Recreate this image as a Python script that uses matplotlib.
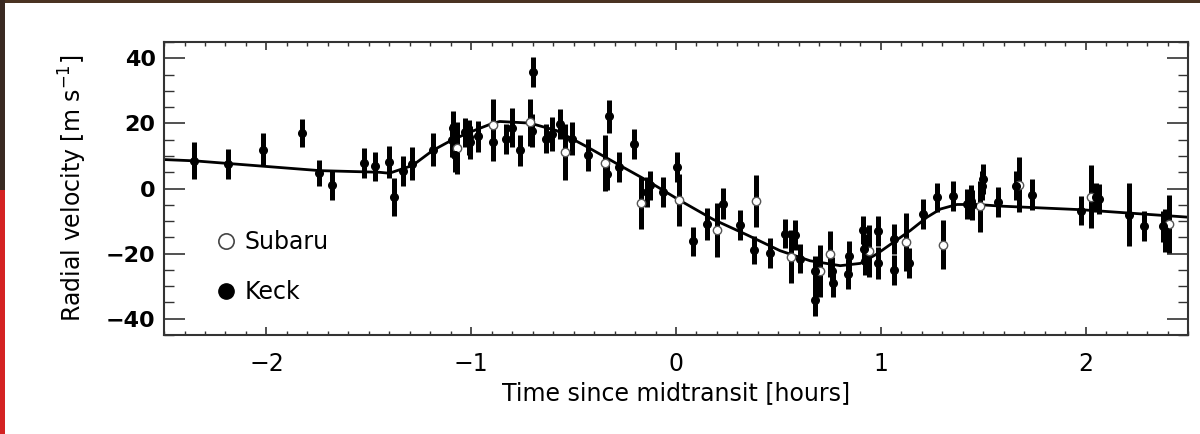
import matplotlib
matplotlib.use("Agg")
import matplotlib.pyplot as plt
from matplotlib.lines import Line2D
from matplotlib.patches import Rectangle
from matplotlib.ticker import MultipleLocator

# Keck points (filled): time [h], RV [m/s], error [m/s]
keck_t = [-2.352, -2.19, -2.015, -1.827, -1.741, -1.68, -1.524, -1.469, -1.402, -1.379,
          -1.333, -1.289, -1.187, -1.089, -1.092, -1.080, -1.032, -1.012, -1.005, -0.967,
          -0.894, -0.828, -0.803, -0.763, -0.698, -0.705, -0.633, -0.608, -0.567, -0.51,
          -0.429, -0.339, -0.326, -0.277, -0.205, -0.143, -0.125, -0.065, 0.003, 0.085,
          0.153, 0.231, 0.310, 0.381, 0.460, 0.530, 0.582, 0.606, 0.680, 0.680,
          0.761, 0.766, 0.838, 0.846, 0.913, 0.919, 0.925, 0.988, 0.985, 1.062,
          1.062, 1.136, 1.206, 1.275, 1.353, 1.421, 1.438, 1.446, 1.499, 1.495,
          1.573, 1.658, 1.739, 1.976, 2.049, 2.065, 2.212, 2.286, 2.380, 2.390]
keck_rv = [8.6, 7.6, 11.9, 17.1, 4.8, 1.2, 7.8, 6.8, 8.1, -2.7,
           5.5, 7.6, 11.9, 18.7, 14.8, 10.2, 17.3, 15.8, 14.2, 16.1,
           14.2, 15.1, 18.7, 11.7, 35.8, 17.8, 15.3, 16.8, 19.9, 15.3,
           10.2, 4.5, 22.2, 6.6, 13.7, -1.1, 1.0, -1.1, 6.6, -16.2,
           -10.9, -4.7, -11.2, -18.9, -19.8, -13.9, -14.2, -21.6, -25.4, -34.3,
           -25.4, -29.1, -26.3, -20.6, -12.7, -18.6, -22.2, -13.1, -23.0, -15.5,
           -25.0, -23.0, -7.8, -2.7, -2.2, -4.7, -3.7, -5.2, 3.0, 0.9,
           -4.2, 0.9, -1.9, -6.8, -2.7, -3.2, -8.0, -11.6, -11.6, -12.9]
keck_err = [5.6, 4.6, 5.1, 4.3, 4.0, 4.6, 4.6, 4.5, 4.9, 5.8,
            4.6, 5.1, 5.1, 5.0, 5.0, 5.0, 4.5, 5.4, 5.0, 4.8,
            5.8, 4.6, 6.0, 4.7, 4.7, 5.0, 4.4, 5.2, 4.6, 5.1,
            4.9, 5.0, 5.0, 4.7, 4.6, 4.7, 4.5, 4.7, 4.5, 4.4,
            4.8, 4.8, 4.6, 4.3, 4.5, 4.5, 4.6, 4.5, 4.6, 4.8,
            4.5, 4.2, 4.6, 4.6, 4.3, 4.5, 4.5, 4.7, 4.9, 4.6,
            4.5, 4.6, 4.5, 4.5, 4.6, 4.6, 4.8, 4.6, 4.6, 4.5,
            4.6, 4.4, 4.7, 4.5, 4.4, 4.5, 9.8, 4.6, 4.8, 6.5]

# Subaru points (open)
subaru_t = [-1.069, -0.894, -0.714, -0.543, -0.347, -0.171, 0.013, 0.199, 0.389, 0.561,
            0.704, 0.753, 0.940, 1.125, 1.302, 1.486, 1.675, 2.024, 2.408]
subaru_rv = [12.5, 19.4, 20.4, 11.2, 7.8, -4.4, -3.5, -12.7, -3.9, -20.9,
             -25.2, -20.1, -19.3, -16.3, -17.2, -5.5, 1.2, -2.5, -10.9]
subaru_err = [8.0, 8.0, 7.2, 8.7, 8.5, 8.0, 8.0, 8.3, 8.0, 8.1,
              8.0, 7.2, 8.0, 8.9, 7.6, 7.8, 8.5, 9.7, 9.0]

# model curve
model_t = [-2.5, -2.35, -1.74, -1.45, -1.40, -1.286, -1.188, -1.097, -1.007, -0.901,
           -0.861, -0.714, -0.583, -0.437, -0.274, -0.143, 0.02, 0.182, 0.345, 0.508,
           0.655, 0.802, 0.9, 0.981, 1.062, 1.144, 1.226, 1.291, 1.372, 1.470,
           1.584, 1.976, 2.5]
model_rv = [8.9, 8.5, 5.5, 5.0, 4.7, 7.1, 11.7, 14.8, 17.3, 19.9,
            20.6, 20.1, 17.8, 12.9, 7.1, 2.5, -3.7, -9.5, -14.2, -19.1,
            -22.2, -23.7, -23.0, -20.1, -16.5, -12.9, -8.8, -6.3, -4.9, -4.9,
            -5.4, -6.5, -8.8]

fig = plt.figure(figsize=(12, 4.34), dpi=100)

# slide background bits around the screenshot
fig.add_artist(Rectangle((0, 1 - 3 / 434), 1, 3 / 434, transform=fig.transFigure,
                         color='#4a3322', lw=0))
fig.add_artist(Rectangle((0, 0), 5 / 1200, 0.562, transform=fig.transFigure,
                         color='#d42222', lw=0))
fig.add_artist(Rectangle((0, 0.562), 5 / 1200, 0.438, transform=fig.transFigure,
                         color='#3a2a22', lw=0))

ax = fig.add_axes([0.1367, 0.2281, 0.8533, 0.675])

ax.plot(model_t, model_rv, color='black', lw=2.0, zorder=2)
ax.errorbar(subaru_t, subaru_rv, yerr=subaru_err, fmt='none', ecolor='black',
            elinewidth=3.6, capsize=0, zorder=3)
ax.errorbar(keck_t, keck_rv, yerr=keck_err, fmt='none', ecolor='black',
            elinewidth=3.6, capsize=0, zorder=3)
ax.plot(subaru_t, subaru_rv, 'o', mfc='white', mec='#555555', ms=6, mew=1.0,
        ls='none', zorder=4)
ax.plot(keck_t, keck_rv, 'o', color='black', ms=5.5, ls='none', zorder=5)

ax.set_xlim(-2.5, 2.5)
ax.set_ylim(-45, 45)
ax.xaxis.set_major_locator(MultipleLocator(1))
ax.xaxis.set_minor_locator(MultipleLocator(0.1))
ax.yaxis.set_major_locator(MultipleLocator(20))
ax.yaxis.set_minor_locator(MultipleLocator(5))

ax.tick_params(which='both', direction='in', top=True, right=True, color='#333333')
ax.tick_params(axis='x', which='major', length=6, width=1.2, pad=12, labelsize=17)
ax.tick_params(axis='x', which='minor', length=3, width=1.0)
ax.tick_params(axis='y', which='major', length=15, width=1.2, pad=6, labelsize=16)
ax.tick_params(axis='y', which='minor', length=7.5, width=1.0)
for lab in ax.get_yticklabels():
    lab.set_fontweight('bold')
for sp in ax.spines.values():
    sp.set_color('#333333')
    sp.set_linewidth(1.5)

ax.set_xlabel('Time since midtransit [hours]', fontsize=17, labelpad=4)
ax.set_ylabel(r'Radial velocity [m s$^{-1}$]', fontsize=17, labelpad=12)

handles = [Line2D([], [], marker='o', ls='none', mfc='white', mec='#444444', ms=11, mew=1.2),
           Line2D([], [], marker='o', ls='none', color='black', ms=11)]
ax.legend(handles, ['Subaru', 'Keck'], loc='lower left', bbox_to_anchor=(0.028, 0.032),
          frameon=False, fontsize=17, handlelength=1.0, handletextpad=0.3,
          labelspacing=1.1)

fig.savefig('out.png', dpi=100)
